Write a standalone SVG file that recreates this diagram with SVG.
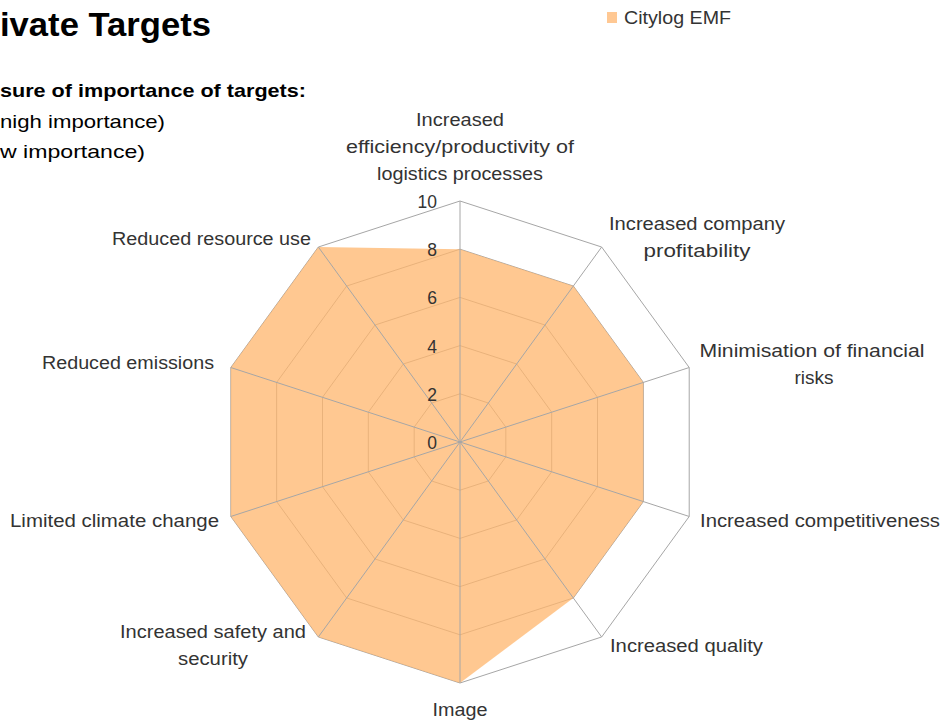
<svg xmlns="http://www.w3.org/2000/svg" width="944" height="722" viewBox="0 0 944 722">
<style>
.lbl{font-family:"Liberation Sans",Arial,sans-serif;font-size:17.5px;fill:#333333}
.mid{text-anchor:middle}
.end{text-anchor:end}
.ring{fill:none;stroke:#A6A6A6;stroke-width:1}
.spoke{stroke:#A6A6A6;stroke-width:1}
.hdr{font-family:"Liberation Sans",Arial,sans-serif;fill:#000000}
</style>
<rect width="944" height="722" fill="#ffffff"/>
<g id="header">
<text class="hdr" x="0" y="36" font-size="33" font-weight="bold" textLength="211" lengthAdjust="spacingAndGlyphs">ivate Targets</text>
<text class="hdr" x="0" y="97" font-size="19" font-weight="bold" textLength="306" lengthAdjust="spacingAndGlyphs">sure of importance of targets:</text>
<text class="hdr" x="0" y="128" font-size="19" textLength="165" lengthAdjust="spacingAndGlyphs">nigh importance)</text>
<text class="hdr" x="0" y="158" font-size="19" textLength="145" lengthAdjust="spacingAndGlyphs">w importance)</text>
</g>
<g id="legend">
<rect x="607" y="12" width="10" height="11" fill="#FFC893"/>
<text class="lbl" x="624" y="24" textLength="107" lengthAdjust="spacingAndGlyphs">Citylog EMF</text>
</g>
<g id="grid">
<polygon class="ring" points="460,201 601.66,247.03 689.21,367.53 689.21,516.47 601.66,636.97 460,683 318.34,636.97 230.79,516.47 230.79,367.53 318.34,247.03"/>
<polygon class="ring" points="460,249.2 573.33,286.02 643.36,382.42 643.36,501.58 573.33,597.98 460,634.8 346.67,597.98 276.64,501.58 276.64,382.42 346.67,286.02"/>
<polygon class="ring" points="460,297.4 544.99,325.02 597.52,397.32 597.52,486.68 544.99,558.98 460,586.6 375.01,558.98 322.48,486.68 322.48,397.32 375.01,325.02"/>
<polygon class="ring" points="460,345.6 516.66,364.01 551.68,412.21 551.68,471.79 516.66,519.99 460,538.4 403.34,519.99 368.32,471.79 368.32,412.21 403.34,364.01"/>
<polygon class="ring" points="460,393.8 488.33,403.01 505.84,427.11 505.84,456.89 488.33,480.99 460,490.2 431.67,480.99 414.16,456.89 414.16,427.11 431.67,403.01"/>
</g>
<g id="series-citylog-emf">
<polygon points="460,249.2 573.33,286.02 643.36,382.42 643.36,501.58 573.33,597.98 460,683 318.34,636.97 230.79,516.47 230.79,367.53 318.34,247.03" fill="#FFB66C" fill-opacity="0.75"/>
</g>
<g id="connectors">
<line class="spoke" x1="460" y1="442" x2="460" y2="201"/>
<line class="spoke" x1="460" y1="442" x2="601.66" y2="247.03"/>
<line class="spoke" x1="460" y1="442" x2="689.21" y2="367.53"/>
<line class="spoke" x1="460" y1="442" x2="689.21" y2="516.47"/>
<line class="spoke" x1="460" y1="442" x2="601.66" y2="636.97"/>
<line class="spoke" x1="460" y1="442" x2="460" y2="683"/>
<line class="spoke" x1="460" y1="442" x2="318.34" y2="636.97"/>
<line class="spoke" x1="460" y1="442" x2="230.79" y2="516.47"/>
<line class="spoke" x1="460" y1="442" x2="230.79" y2="367.53"/>
<line class="spoke" x1="460" y1="442" x2="318.34" y2="247.03"/>
</g>
<g id="ticks">
<text class="lbl end" x="437" y="208">10</text>
<text class="lbl end" x="437" y="256">8</text>
<text class="lbl end" x="437" y="304">6</text>
<text class="lbl end" x="437" y="353">4</text>
<text class="lbl end" x="437" y="401">2</text>
<text class="lbl end" x="437" y="449">0</text>
</g>
<g id="node-efficiency">
<text class="lbl mid" x="460" y="126" textLength="88" lengthAdjust="spacingAndGlyphs">Increased</text>
<text class="lbl mid" x="460" y="153" textLength="228" lengthAdjust="spacingAndGlyphs">efficiency/productivity of</text>
<text class="lbl mid" x="460" y="180" textLength="166" lengthAdjust="spacingAndGlyphs">logistics processes</text>
</g>
<g id="node-profitability">
<text class="lbl mid" x="697" y="230" textLength="176" lengthAdjust="spacingAndGlyphs">Increased company</text>
<text class="lbl mid" x="697" y="257" textLength="107" lengthAdjust="spacingAndGlyphs">profitability</text>
</g>
<g id="node-financial-risks">
<text class="lbl mid" x="812" y="357" textLength="225" lengthAdjust="spacingAndGlyphs">Minimisation of financial</text>
<text class="lbl mid" x="814" y="384" textLength="39" lengthAdjust="spacingAndGlyphs">risks</text>
</g>
<g id="node-competitiveness">
<text class="lbl" x="700" y="527" textLength="240" lengthAdjust="spacingAndGlyphs">Increased competitiveness</text>
</g>
<g id="node-quality">
<text class="lbl" x="610" y="652" textLength="153" lengthAdjust="spacingAndGlyphs">Increased quality</text>
</g>
<g id="node-image">
<text class="lbl mid" x="460" y="716" textLength="55" lengthAdjust="spacingAndGlyphs">Image</text>
</g>
<g id="node-safety">
<text class="lbl mid" x="213" y="638" textLength="186" lengthAdjust="spacingAndGlyphs">Increased safety and</text>
<text class="lbl mid" x="213" y="665" textLength="70" lengthAdjust="spacingAndGlyphs">security</text>
</g>
<g id="node-climate">
<text class="lbl" x="10" y="527" textLength="209" lengthAdjust="spacingAndGlyphs">Limited climate change</text>
</g>
<g id="node-emissions">
<text class="lbl" x="42" y="369" textLength="172" lengthAdjust="spacingAndGlyphs">Reduced emissions</text>
</g>
<g id="node-resource-use">
<text class="lbl" x="112" y="245" textLength="199" lengthAdjust="spacingAndGlyphs">Reduced resource use</text>
</g>
</svg>
